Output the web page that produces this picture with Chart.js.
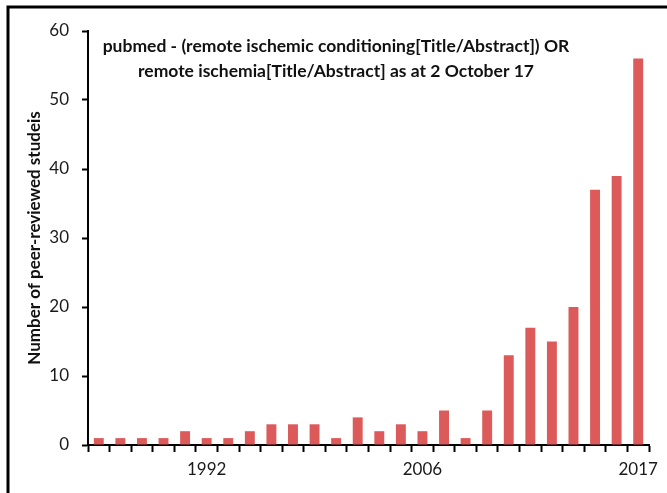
<!DOCTYPE html>
<html>
<head>
<meta charset="utf-8">
<script src="https://cdn.jsdelivr.net/npm/chart.js@4"></script>
<style>
  html, body { margin: 0; padding: 0; background: #fff; }
  #wrap { width: 667px; height: 493px; position: relative; }
</style>
</head>
<body>
<div id="wrap"><canvas id="myChart" width="667" height="493"></canvas></div>
<script>
// years with at least one paper (years with none are left out of the axis)
const years = [1983, 1986, 1988, 1990, 1991, 1992, 1993, 1994, 1996, 1997,
               1999, 2000, 2002, 2003, 2005, 2006, 2008, 2009, 2010, 2011,
               2012, 2013, 2014, 2015, 2016, 2017];
const studies = [1, 1, 1, 1, 2, 1, 1, 2, 3, 3,
                 3, 1, 4, 2, 3, 2, 5, 1, 5, 13,
                 17, 15, 20, 37, 39, 56];
const shownYears = [1992, 2006, 2017];
const yTicks = [0, 10, 20, 30, 40, 50, 60];
const titleLines = [
  "pubmed - (remote ischemic conditioning[Title/Abstract]) OR",
  "remote ischemia[Title/Abstract] as at 2 October 17"
];

const FONT = "Lato, 'Open Sans', sans-serif";

// frame line on left + top, and the title inside the plot
const framePlugin = {
  id: "frame",
  beforeDraw(chart) {
    const c = chart.ctx;
    c.save();
    c.fillStyle = "#fff";
    c.fillRect(0, 0, chart.width, chart.height);
    c.strokeStyle = "#000";
    c.lineWidth = 3;
    c.beginPath();
    c.moveTo(8, chart.height);
    c.lineTo(8, 7);
    c.lineTo(chart.width, 7);
    c.stroke();
    c.restore();
  },
  afterDraw(chart) {
    const c = chart.ctx;
    c.save();
    c.fillStyle = "#111";
    c.font = "bold 17.5px " + FONT;
    c.textAlign = "center";
    c.textBaseline = "middle";
    c.fillText(titleLines[0], 336, 46);
    c.fillText(titleLines[1], 336, 71);
    c.restore();
  }
};

const ctx = document.getElementById("myChart").getContext("2d");
const myChart = new Chart(ctx, {
  type: "bar",
  data: {
    labels: years.map(String),
    datasets: [{
      data: studies,
      backgroundColor: "#DC5A5A",
      borderWidth: 0,
      barPercentage: 0.92,
      categoryPercentage: 0.5
    }]
  },
  options: {
    responsive: false,
    animation: false,
    layout: { padding: { left: 0, top: 31, right: 18, bottom: 0 } },
    plugins: {
      legend: { display: false },
      tooltip: { enabled: false }
    },
    scales: {
      x: {
        grid: {
          offset: true,
          drawOnChartArea: false,
          tickLength: 7,
          tickWidth: 2,
          color: "#000"
        },
        border: { color: "#000", width: 2 },
        ticks: {
          autoSkip: false,
          maxRotation: 0,
          padding: 7,
          color: "#1a1a1a",
          font: { family: FONT, size: 17 },
          callback: function (v, i) {
            const y = years[i];
            return shownYears.includes(y) ? String(y) : "";
          }
        },
        afterFit(scale) { scale.height = 48; }
      },
      y: {
        min: 0,
        max: 60,
        afterBuildTicks(scale) {
          scale.ticks = yTicks.map(v => ({ value: v }));
        },
        grid: {
          drawOnChartArea: false,
          tickLength: 6,
          tickWidth: 2,
          color: "#000"
        },
        border: { color: "#000", width: 2 },
        ticks: {
          padding: 13,
          color: "#1a1a1a",
          font: { family: FONT, size: 17 }
        },
        title: {
          display: true,
          text: "Number of peer-reviewed studeis",
          color: "#111",
          font: { family: FONT, size: 17, weight: "bold" },
          padding: { top: 24, bottom: 0 }
        },
        afterFit(scale) { scale.width = 88; }
      }
    }
  },
  plugins: [framePlugin]
});
</script>
</body>
</html>
